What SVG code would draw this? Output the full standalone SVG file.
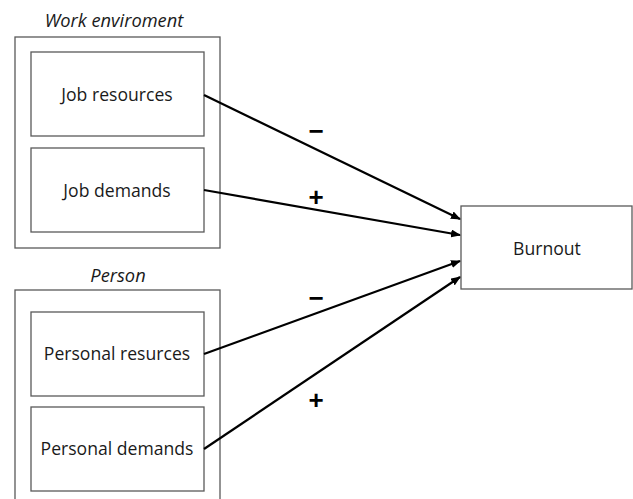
<svg xmlns="http://www.w3.org/2000/svg" width="633" height="499" viewBox="0 0 633 499">
<defs>
<marker id="ah" markerWidth="10" markerHeight="8" refX="9" refY="4" orient="auto" markerUnits="userSpaceOnUse">
<path d="M0,0 L10,4 L0,8 Z" fill="#000"/>
</marker>
<style>
.box{fill:#fff;stroke:#595959;stroke-width:1.3}
.lbl{font-family:"Open Sans","Liberation Sans",sans-serif;font-size:17.6px;fill:#1a1a1a;text-anchor:middle}
.ttl{font-family:"Open Sans","Liberation Sans",sans-serif;font-size:18.3px;font-style:italic;fill:#1a1a1a;text-anchor:middle}
.sign{font-family:"Liberation Sans",sans-serif;font-size:26px;font-weight:bold;fill:#000;text-anchor:middle}
.conn{stroke:#000;stroke-width:2.2;fill:none;marker-end:url(#ah)}
</style>
</defs>
<rect width="633" height="499" fill="#fff"/>
<g id="work-environment">
<text class="ttl" x="114" y="27">Work enviroment</text>
<rect class="box" x="15" y="37" width="205" height="211"/>
</g>
<g id="job-resources">
<rect class="box" x="31" y="52" width="173" height="84"/>
<text class="lbl" x="117" y="101">Job resources</text>
</g>
<g id="job-demands">
<rect class="box" x="31" y="148" width="173" height="84"/>
<text class="lbl" x="117" y="197">Job demands</text>
</g>
<g id="person">
<text class="ttl" x="118" y="282">Person</text>
<rect class="box" x="15" y="290" width="205" height="220"/>
</g>
<g id="personal-resurces">
<rect class="box" x="31" y="312" width="173" height="84"/>
<text class="lbl" x="117" y="360">Personal resurces</text>
</g>
<g id="personal-demands">
<rect class="box" x="31" y="407" width="173" height="84"/>
<text class="lbl" x="117" y="455">Personal demands</text>
</g>
<g id="burnout">
<rect class="box" x="461" y="206" width="171" height="83"/>
<text class="lbl" x="547" y="255">Burnout</text>
</g>
<g id="connectors">
<line class="conn" x1="204" y1="95" x2="460" y2="219"/>
<line class="conn" x1="204" y1="190" x2="460" y2="235"/>
<line class="conn" x1="204" y1="354" x2="460" y2="261"/>
<line class="conn" x1="204" y1="449" x2="460" y2="277"/>
<text class="sign" x="316" y="140">−</text>
<text class="sign" x="316" y="206">+</text>
<text class="sign" x="316" y="307">−</text>
<text class="sign" x="316" y="409">+</text>
</g>
</svg>
